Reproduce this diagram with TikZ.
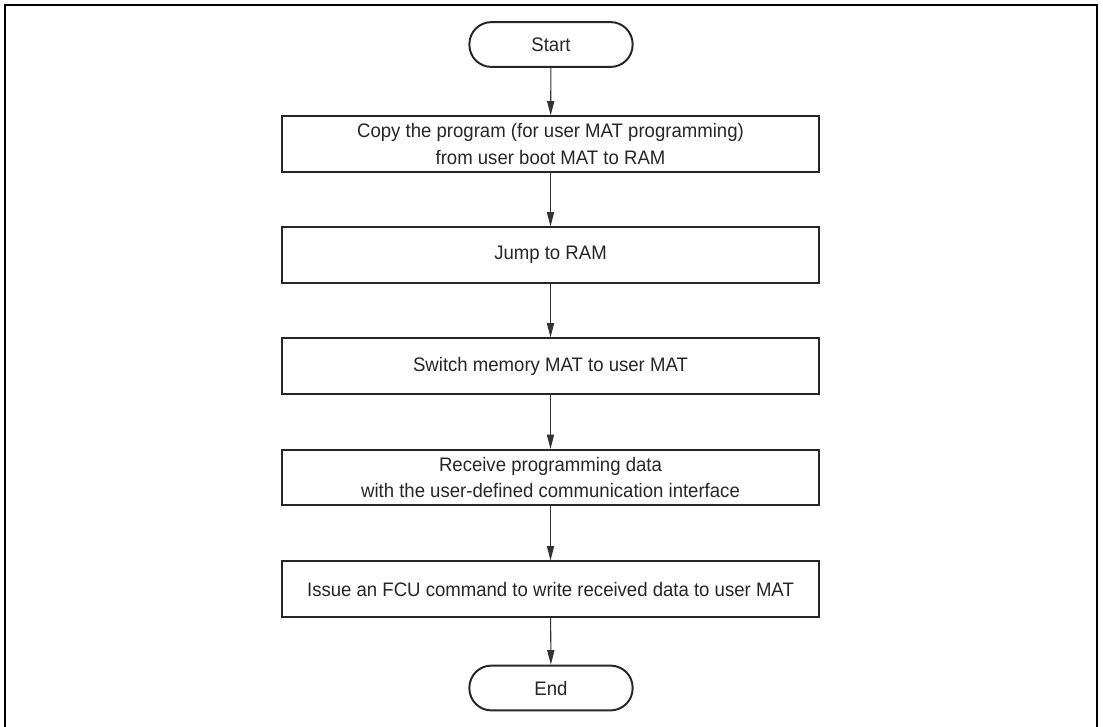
\documentclass[tikz,border=0pt]{standalone}
\usepackage{fontspec}
\setmainfont{Liberation Sans}[FakeStretch=0.95]
\usepackage{tikz}
\usetikzlibrary{
    arrows.meta,
    positioning
}

\begin{document}
\begin{tikzpicture}[
    x=0.025cm, y=-0.025cm,
    every node/.style={font=\fontsize{13.9pt}{19pt}\selectfont, text=black!85},
    step_box/.style={rectangle, draw=black!85, line width=1.4pt, minimum width=13.4cm, minimum height=1.38cm, align=center, inner sep=0pt},
    terminal/.style={rectangle, rounded corners=0.55cm, draw=black!85, line width=1.4pt, minimum width=4.08cm, minimum height=1.12cm, inner sep=0pt},
    arrow/.style={line width=0.75pt, -{Triangle[length=0.36cm, width=0.18cm]}, draw=black!80}
]
\useasboundingbox (0,0) rectangle (1103,726);
\draw[line width=1.5pt] (5,730) -- (5,5) -- (1097,5) -- (1097,730);

\node[terminal] (start_node) at (551,44.5) {Start};
\node[step_box] (copy_box) at (550.5,144) {Copy the program (for user MAT programming)\\from user boot MAT to RAM};
\node[step_box] (jump_box) at (550.5,255) {Jump to RAM};
\node[step_box] (switch_box) at (550.5,366) {Switch memory MAT to user MAT};
\node[step_box] (receive_box) at (550.5,477.5) {Receive programming data\\with the user-defined communication interface};
\node[step_box] (issue_box) at (550.5,589) {Issue an FCU command to write received data to user MAT};
\node[terminal] (end_node) at (551,688) {End};

\foreach \a/\b in {start_node/copy_box, copy_box/jump_box, jump_box/switch_box,
    switch_box/receive_box, receive_box/issue_box, issue_box/end_node} {
    \draw[arrow] (\a) -- (\b);
}

\end{tikzpicture}
\end{document}
